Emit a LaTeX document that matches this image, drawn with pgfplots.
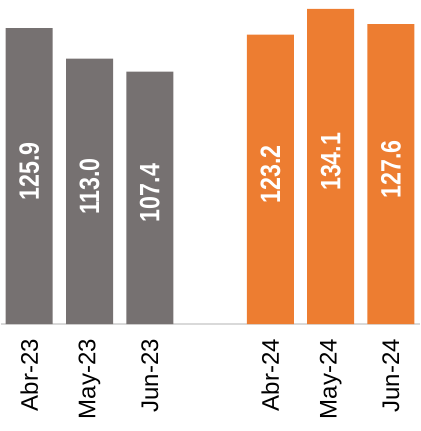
\documentclass[border=0pt]{standalone}
\usepackage{pgfplots}
\pgfplotsset{compat=1.18}
\usepackage{pgfplotstable}
\usepackage{fontspec}
\setmainfont{Liberation Sans}
\newfontface\valfont[FakeStretch=0.83]{Liberation Sans Bold}
\definecolor{cgray}{HTML}{767171}
\definecolor{corange}{HTML}{ED7D31}
\definecolor{cbase}{HTML}{D9D9D9}
\pgfplotstableread{
x v
0 125.9
1 113.0
2 107.4
}\tA
\pgfplotstableread{
x v
4 123.2
5 134.1
6 127.6
}\tB
\begin{document}
\begin{tikzpicture}
\path (0pt,-107pt) rectangle (419pt,324pt);
\begin{axis}[
 at={(0pt,0pt)}, anchor=south west,
 scale only axis, width=419pt, height=324pt,
 xmin=-0.475, xmax=6.475, ymin=0, ymax=137.9,
 axis y line=none, axis x line*=bottom,
 x axis line style={cbase, line width=1.2pt, -},
 xtick={0,1,2,4,5,6},
 xticklabels={Abr-23,May-23,Jun-23,Abr-24,May-24,Jun-24},
 xticklabel style={yshift=-15pt, rotate=90, anchor=east, inner sep=0pt, font=\fontsize{24}{24}\selectfont},
 major tick length=0pt,
 clip=false,
 /pgf/number format/assume math mode=true,
 vlabel/.style={draw=none, mark=none, point meta=explicit,
   nodes near coords={\pgfmathprintnumber[fixed, fixed zerofill, precision=1]{\pgfplotspointmeta}},
   every node near coord/.append style={rotate=90, anchor=center, text=white, inner sep=0pt, font=\valfont\fontsize{28}{28}\selectfont}},
]
\addplot[ybar, bar shift=0pt, bar width=47pt, fill=cgray, draw=none] table[x=x, y=v]{\tA};
\addplot[ybar, bar shift=0pt, bar width=47pt, fill=corange, draw=none] table[x=x, y=v]{\tB};
\addplot[vlabel] table[x=x, y expr=\thisrow{v}/2+2, meta=v]{\tA};
\addplot[vlabel] table[x=x, y expr=\thisrow{v}/2+2, meta=v]{\tB};
\end{axis}
\end{tikzpicture}
\end{document}
